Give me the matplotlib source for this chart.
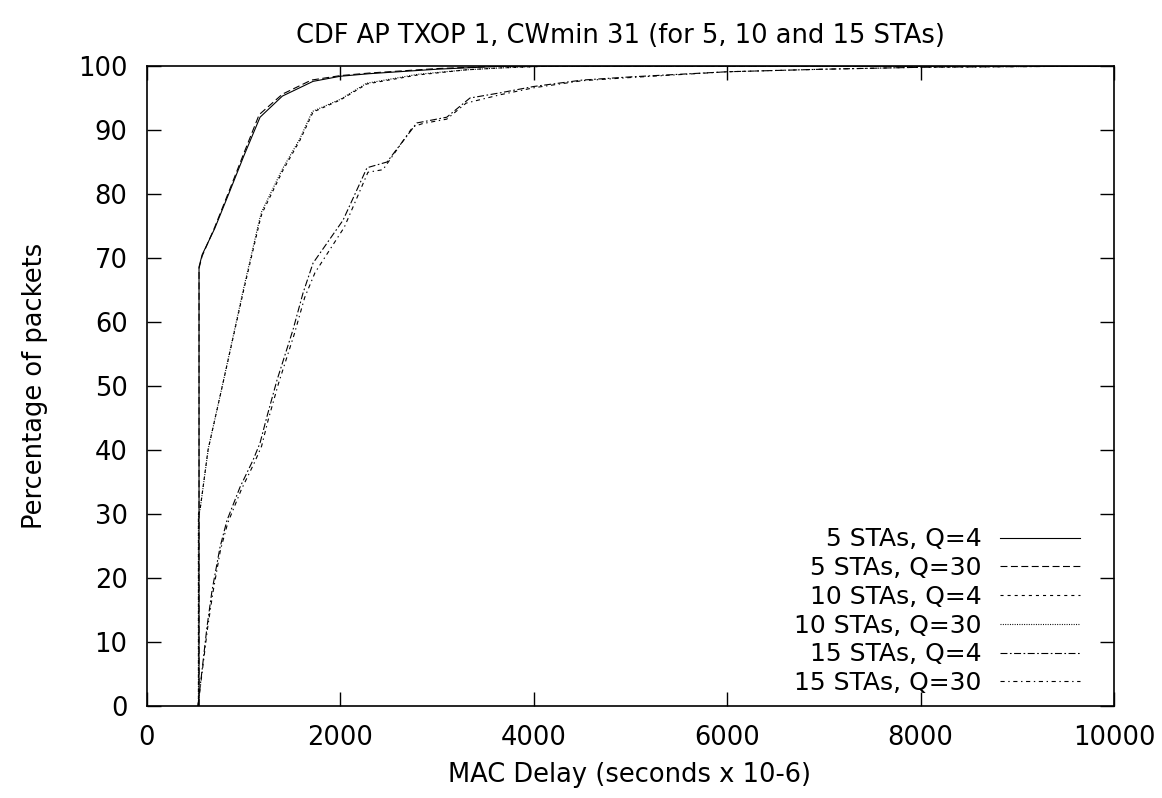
import numpy as np
import matplotlib
matplotlib.use('Agg')
import matplotlib.pyplot as plt

# ensure the same rc parameters for the whole figure
matplotlib.rcParams.update({'font.family': 'DejaVu Sans'})
matplotlib.rcParams.update({'font.size': 18.5})
matplotlib.rcParams.update({'lines.scale_dashes': False})

TITLE = "CDF AP TXOP 1, CWmin 31 (for 5, 10 and 15 STAs)"
X_LABEL = "MAC Delay (seconds x 10-6)"
Y_LABEL = "Percentage of packets"

LABELS = ["5 STAs, Q=4", "5 STAs, Q=30", "10 STAs, Q=4",
          "10 STAs, Q=30", "15 STAs, Q=4", "15 STAs, Q=30"]

# values (delay, percentage)
sta5_q4_x = [538, 538, 570, 700, 850, 1000, 1169, 1400, 1717, 2000, 2300, 3000, 3650, 4000, 10000]
sta5_q4_y = [0, 68.6, 70.5, 74.6, 80.2, 85.9, 92.0, 95.3, 97.6, 98.4, 98.8, 99.5, 99.95, 100, 100]

sta5_q30_x = [538, 538, 570, 700, 850, 1000, 1160, 1400, 1700, 2000, 2300, 3000, 3600, 4000, 10000]
sta5_q30_y = [0, 68.4, 70.3, 74.8, 80.5, 86.3, 92.4, 95.6, 97.8, 98.5, 98.9, 99.6, 99.95, 100, 100]

sta10_q4_x = [532, 532, 548, 631, 776, 1000, 1169, 1190, 1406, 1582, 1717, 2000, 2275,
              2800, 3300, 3650, 4200, 10000]
sta10_q4_y = [0, 30.0, 30.6, 40.0, 49.8, 65.0, 75.9, 77.0, 83.7, 88.4, 92.8, 94.7, 97.2,
              98.6, 99.4, 99.7, 100, 100]

sta10_q30_x = [532, 532, 550, 635, 780, 1000, 1165, 1185, 1400, 1580, 1710, 2000, 2270,
               2800, 3300, 3650, 4200, 10000]
sta10_q30_y = [0, 29.5, 30.8, 40.3, 50.1, 65.3, 76.1, 77.2, 83.9, 88.6, 92.9, 94.8, 97.3,
               98.7, 99.4, 99.7, 100, 100]

sta15_q4_x = [527, 620, 672, 755, 827, 962, 1096, 1169, 1240, 1344, 1510, 1613, 1717,
              2027, 2275, 2482, 2790, 3100, 3340, 3650, 4000, 4500, 5000, 6000, 7000,
              8000, 9000, 10000]
sta15_q4_y = [0, 12.3, 18.0, 24.8, 29.0, 34.2, 38.4, 41.1, 45.2, 50.9, 58.8, 64.5, 69.2,
              75.9, 84.1, 85.0, 91.1, 92.0, 95.0, 95.8, 96.8, 97.8, 98.3, 99.1, 99.5,
              99.8, 99.9, 100]

sta15_q30_x = [527, 625, 680, 760, 835, 975, 1110, 1185, 1255, 1360, 1525, 1630, 1737,
               2040, 2285, 2440, 2750, 2850, 3100, 3300, 3650, 4000, 4500, 5000, 6000,
               7000, 8000, 9000, 10000]
sta15_q30_y = [0, 12.0, 17.6, 24.4, 28.6, 33.8, 38.0, 40.6, 44.8, 50.4, 58.2, 63.8, 67.7,
               74.8, 83.4, 83.8, 90.5, 91.0, 91.7, 94.2, 95.5, 96.6, 97.7, 98.2, 99.1,
               99.5, 99.8, 99.9, 100]

SERIES = [
    (sta5_q4_x, sta5_q4_y),
    (sta5_q30_x, sta5_q30_y),
    (sta10_q4_x, sta10_q4_y),
    (sta10_q30_x, sta10_q30_y),
    (sta15_q4_x, sta15_q4_y),
    (sta15_q30_x, sta15_q30_y),
]

# gnuplot-like dash types, in points
DASHES = [
    None,
    (5, 2.5),
    (2.2, 2.9),
    (0.7, 1.0),
    (5, 1.8, 1.2, 1.8),
    (3, 2.6, 1.0, 2.6),
]


def plot_cdf(name="out"):
    fig = plt.figure(figsize=(11.62, 7.98), dpi=100)
    ax = fig.add_axes([147 / 1162, 1 - 706 / 798, 967 / 1162, 640 / 798])

    for (xs, ys), label, dash in zip(SERIES, LABELS, DASHES):
        line, = ax.plot(xs, ys, color='black', lw=0.8, label=label)
        if dash is not None:
            line.set_dashes(dash)

    ax.set_xlim(0, 10000)
    ax.set_ylim(0, 100)
    ax.set_xticks(np.arange(0, 10001, 2000))
    ax.set_yticks(np.arange(0, 101, 10))
    ax.tick_params(direction='in', length=10, width=1.0, top=True, right=True,
                   labelsize=18.5)
    ax.tick_params(axis='x', pad=14)
    ax.tick_params(axis='y', pad=14)
    for spine in ax.spines.values():
        spine.set_linewidth(1.2)

    fig.text(620 / 1162, 1 - 36 / 798, TITLE, ha='center', va='center', fontsize=18.5)
    fig.text(630 / 1162, 1 - 775 / 798, X_LABEL, ha='center', va='center', fontsize=18.5)
    fig.text(35 / 1162, 1 - 386 / 798, Y_LABEL, ha='center', va='center',
             rotation=90, fontsize=18.5)

    leg = ax.legend(loc='lower right', bbox_to_anchor=((1080 - 147) / 967, (706 - 695) / 640),
                    frameon=False, markerfirst=False, handlelength=3.2,
                    handletextpad=0.75, labelspacing=0.19, borderpad=0,
                    borderaxespad=0, fontsize=18)
    # right-justify the keys like gnuplot does
    leg._legend_handle_box.get_children()[0].align = 'right'

    fig.savefig(name + ".png", dpi=100)
    plt.close(fig)


plot_cdf("out")
